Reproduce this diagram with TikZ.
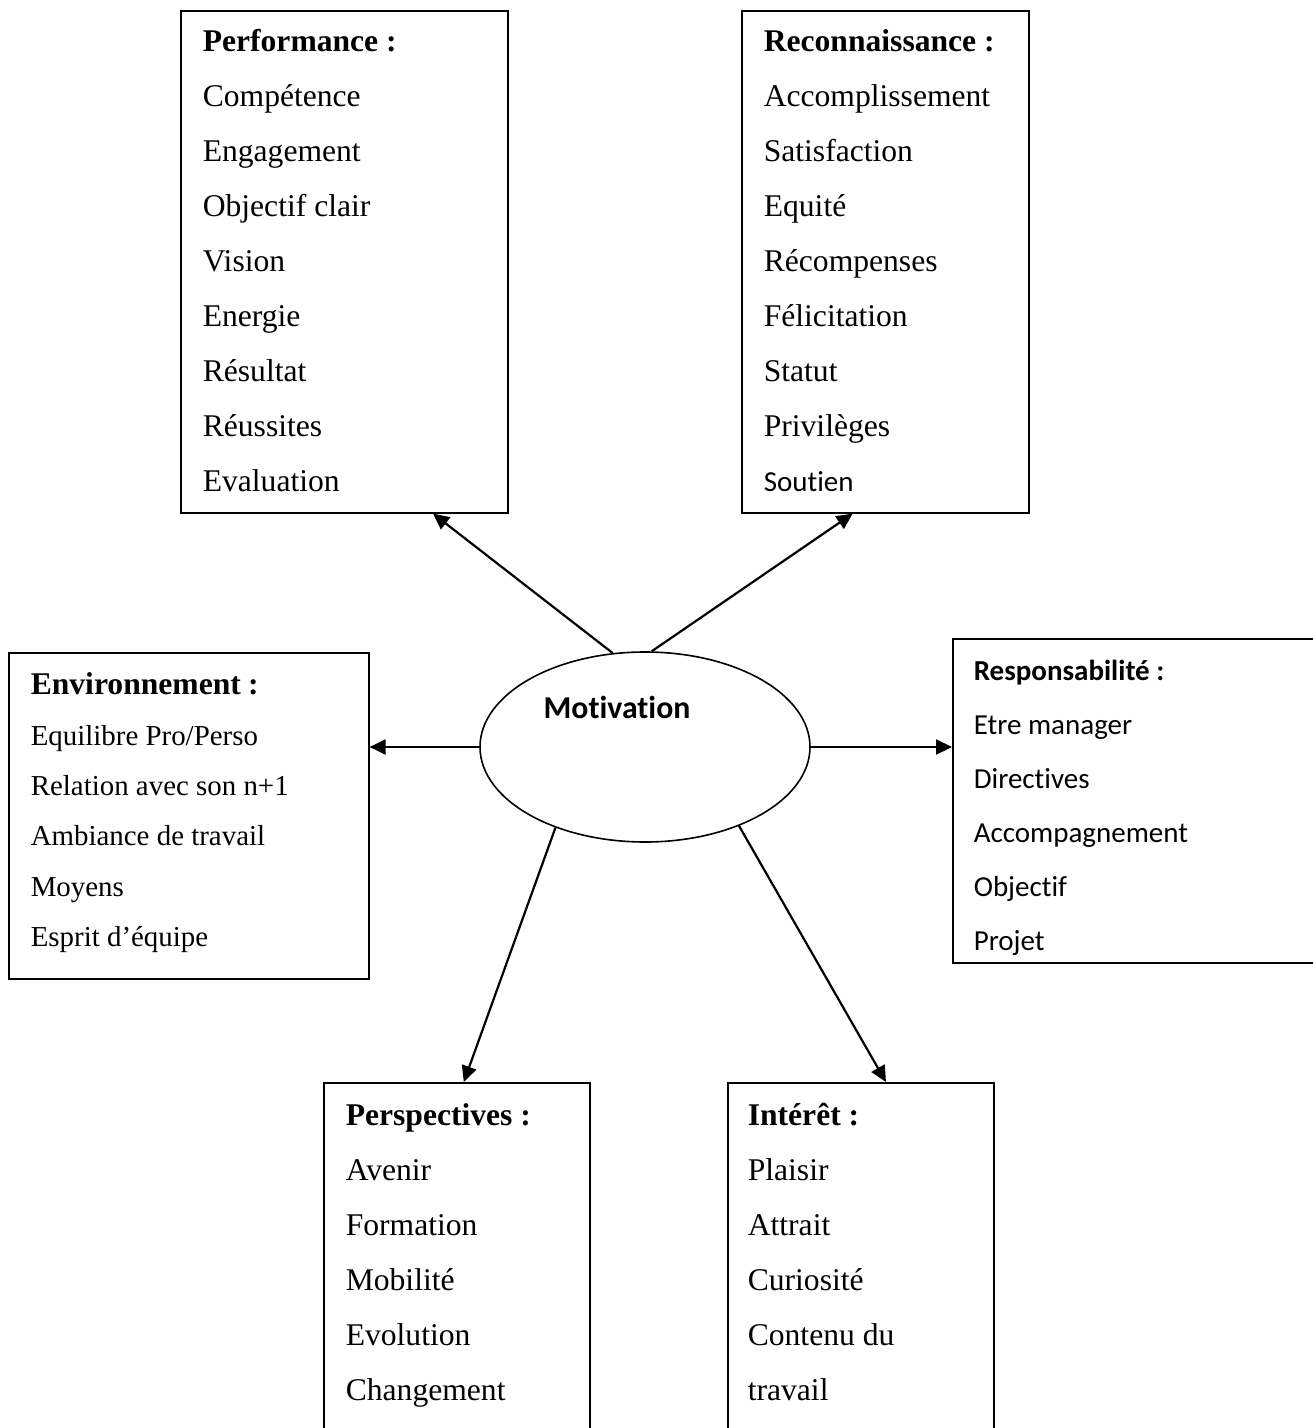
\documentclass[tikz,border=0pt]{standalone}
\usepackage{fontspec}
\setmainfont{Liberation Serif}
\newfontfamily\califont[Ligatures=NoCommon]{Carlito}
\usetikzlibrary{arrows.meta, positioning, shapes.geometric, calc}
\tikzset{
  every picture/.style={x=0.5pt, y=-0.5pt, line width=0.8pt},
  catbox/.style={draw, anchor=north west, align=left, inner xsep=11pt, inner ysep=0pt,
    font=\fontsize{15.8pt}{27.5pt}\selectfont,
    execute at begin node={\spaceskip=\fontdimen2\font\relax}},
  calbox/.style={catbox, inner xsep=10.5pt, font=\califont\fontsize{14.5pt}{27pt}\selectfont},
  hub/.style={draw, ellipse, minimum width=165pt, minimum height=95pt, inner sep=0pt},
  hublabel/.style={font=\califont\bfseries\fontsize{15.9pt}{19pt}\selectfont},
  arrow/.style={-{Triangle[length=8pt, width=7.5pt]}, line width=1.1pt},
}

\begin{document}
\begin{tikzpicture}
  \useasboundingbox (0,0) rectangle (1312,1428);
  % centre
  \node[hub] (mot) at (645,747) {};
  \node[hublabel] (motlabel) at (617,707) {Motivation};
  % top row
  \node[catbox, text width=141.5pt, text height=20.5pt, text depth=230.5pt] (perf) at (180,10)
    {\textbf{Performance :}\\Compétence\\Engagement\\Objectif clair\\Vision\\Energie\\Résultat\\Réussites\\Evaluation};
  \node[catbox, text width=121.5pt, text height=20.5pt, text depth=230.5pt] (rec) at (741,10)
    {\textbf{Reconnaissance :}\\Accomplissement\\Satisfaction\\Equité\\Récompenses\\Félicitation\\Statut\\Privilèges\\{\califont\fontsize{14.5pt}{27.5pt}\selectfont Soutien}};
  % middle row
  \node[catbox, text width=158pt, text height=21pt, text depth=142pt,
    font=\fontsize{14.45pt}{25.15pt}\selectfont] (env) at (8,652)
    {{\fontsize{15.8pt}{25.15pt}\selectfont\bfseries Environnement :}\\Equilibre Pro/Perso\\Relation avec son n+1\\Ambiance de travail\\Moyens\\Esprit d’équipe};
  \node[calbox, text width=163pt, text height=21pt, text depth=141pt] (resp) at (952,638)
    {\textbf{Responsabilité :}\\Etre manager\\Directives\\Accompagnement\\Objectif\\Projet};
  % bottom row
  \node[catbox, text width=111pt, text height=21.5pt, text depth=170pt] (persp) at (323,1082)
    {\textbf{Perspectives :}\\Avenir\\Formation\\Mobilité\\Evolution\\Changement};
  \node[catbox, inner xsep=10pt, text width=113pt, text height=21.5pt, text depth=170pt] (int) at (727,1082)
    {\textbf{Intérêt :}\\Plaisir\\Attrait\\Curiosité\\Contenu du\\travail};
  % arrows
  \coordinate (perftip) at ($(perf.south west)!0.77!(perf.south east)$);
  \coordinate (rectip) at ($(rec.south west)!0.387!(rec.south east)$);
  \coordinate (persptip) at ($(persp.north west)!0.526!(persp.north east)$);
  \coordinate (inttip) at ($(int.north west)!0.594!(int.north east)$);
  \draw[arrow] (mot.109.5) -- (perftip);
  \draw[arrow] (mot.86) -- (rectip);
  \draw[arrow] (mot.west) -- (mot.west -| env.east);
  \draw[arrow] (mot.east) -- (mot.east -| resp.west);
  \draw[arrow] (mot.222.6) -- (persptip);
  \draw[arrow] (mot.320.7) -- (inttip);
\end{tikzpicture}
\end{document}
